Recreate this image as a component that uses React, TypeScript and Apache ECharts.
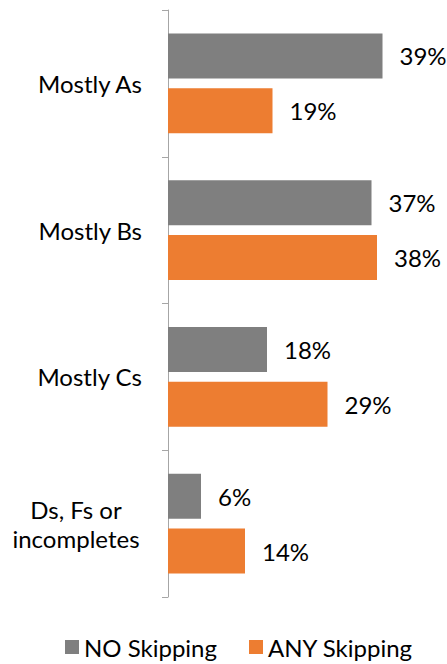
import React, { useEffect, useRef } from "react";
import * as echarts from "echarts";

const categories = ["Mostly As", "Mostly Bs", "Mostly Cs", "Ds, Fs or\nincompletes"];
const noSkipping = [39, 37, 18, 6];
const anySkipping = [19, 38, 29, 14];
const seriesNames = ["NO Skipping", "ANY Skipping"];

const FONT = "Lato, 'Open Sans', sans-serif";

export default function App() {
  const ref = useRef<HTMLDivElement>(null);
  useEffect(() => {
    document.body.style.margin = "0";
    if (!ref.current) return;
    const chart = echarts.init(ref.current, undefined, { renderer: "svg" });
    chart.setOption({
      animation: false,
      textStyle: { fontFamily: FONT },
      grid: { left: 168, right: 4, top: 10, bottom: 67, containLabel: false },
      legend: {
        top: 635,
        left: 60,
        padding: [0, 5],
        icon: "rect",
        itemWidth: 14,
        itemHeight: 14,
        itemGap: 32,
        textStyle: { fontSize: 24, color: "#000", fontFamily: FONT },
        data: seriesNames,
      },
      xAxis: {
        type: "value",
        min: 0,
        max: 50,
        show: false,
        splitLine: { show: false },
      },
      yAxis: {
        type: "category",
        inverse: true,
        data: categories,
        axisLine: { show: true, lineStyle: { color: "#a6a6a6", width: 1 } },
        axisTick: { show: true, length: 6, lineStyle: { color: "#a6a6a6" } },
        axisLabel: {
          margin: 26,
          fontSize: 24,
          color: "#000",
          fontFamily: FONT,
          formatter: (v: string) =>
            v.includes("\n")
              ? v.split("\n").map((l) => `{c|${l}}`).join("\n")
              : v,
          rich: {
            c: { width: 132, align: "center", fontSize: 24, lineHeight: 29, color: "#000", fontFamily: FONT },
          },
        },
      },
      series: [
        {
          name: seriesNames[0],
          type: "bar",
          data: noSkipping,
          barWidth: 45,
          barGap: "22%",
          itemStyle: { color: "#7f7f7f" },
          label: {
            show: true,
            position: "right",
            distance: 17,
            formatter: "{c}%",
            fontSize: 24,
            color: "#000",
            fontFamily: FONT,
          },
        },
        {
          name: seriesNames[1],
          type: "bar",
          data: anySkipping,
          barWidth: 45,
          barGap: "22%",
          itemStyle: { color: "#ed7d31" },
          label: {
            show: true,
            position: "right",
            distance: 17,
            formatter: "{c}%",
            fontSize: 24,
            color: "#000",
            fontFamily: FONT,
          },
        },
      ],
    });
    return () => chart.dispose();
  }, []);
  return <div ref={ref} style={{ width: 447, height: 664 }} />;
}
